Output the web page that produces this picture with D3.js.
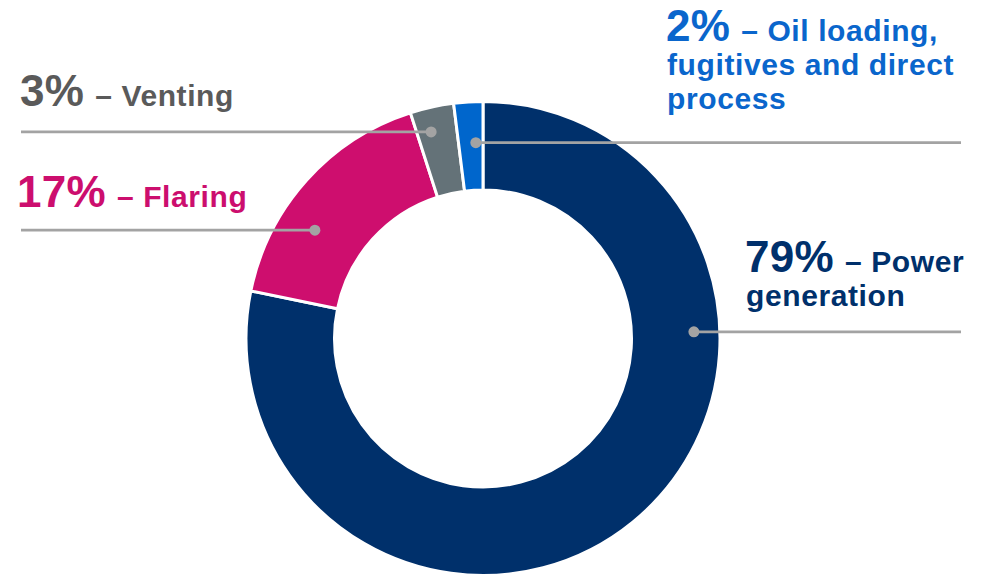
<!DOCTYPE html>
<html>
<head>
<meta charset="utf-8">
<script src="https://cdn.jsdelivr.net/npm/d3@7"></script>
<style>
  html, body { margin: 0; padding: 0; background: #fff; }
  svg { display: block; }
  text { font-family: "Liberation Sans", Arial, Helvetica, sans-serif; font-weight: bold; }
</style>
</head>
<body>
<svg id="chart" width="989" height="575"></svg>
<script>
// Emission sources, shares in percent
const categories = ["Power generation", "Flaring", "Venting", "Oil loading, fugitives and direct process"];
const shares = [79, 17, 3, 2];
const percentLabels = ["79%", "17%", "3%", "2%"];
const descriptionLines = [
  ["– Power", "generation"],
  ["– Flaring"],
  ["– Venting"],
  ["– Oil loading,", "fugitives and direct", "process"]
];

// Presentation
const sliceColors = ["#00306b", "#ce0e6e", "#647278", "#0066cc"];
const textColors  = ["#00306b", "#cc0e6e", "#5a5a5a", "#0a66cc"];

// Label placement: dot position on the ring (angle in degrees clockwise from top, radius),
// text anchor, first baseline and where the leader ends.
const labelLayout = [
  { angle: 88.2,  r: 211, textX: 745, baseY: 271.5, lineEnd: 961 },
  { angle: 302.8, r: 200, textX: 17,  baseY: 206.5, lineEnd: 21 },
  { angle: 345.9, r: 213, textX: 20,  baseY: 105.5, lineEnd: 21 },
  { angle: 357.9, r: 196, textX: 666, baseY: 40.5,  lineEnd: 961 }
];

const svg = d3.select("#chart");
const cx = 483, cy = 338.5;
const outerR = 237, innerR = 148.5;

const rows = categories.map((c, i) => ({ category: c, value: shares[i], index: i }));

const pie = d3.pie().value(d => d.value).sort(null);
const arc = d3.arc().innerRadius(innerR).outerRadius(outerR);

const g = svg.append("g").attr("transform", `translate(${cx},${cy})`);

g.selectAll("path.slice")
  .data(pie(rows))
  .join("path")
  .attr("class", "slice")
  .attr("d", arc)
  .attr("fill", d => sliceColors[d.data.index])
  .attr("stroke", "#fff")
  .attr("stroke-width", 3)
  .attr("stroke-linejoin", "miter");

// Leader lines and dots
const toXY = (deg, r) => {
  const a = deg * Math.PI / 180;
  return [cx + r * Math.sin(a), cy - r * Math.cos(a)];
};

rows.forEach((d, i) => {
  const L = labelLayout[i];
  const [px, py] = toXY(L.angle, L.r);
  svg.append("line")
    .attr("x1", px).attr("y1", py)
    .attr("x2", L.lineEnd).attr("y2", py)
    .attr("stroke", "#a3a3a3")
    .attr("stroke-width", 2.6);
  svg.append("circle")
    .attr("cx", px).attr("cy", py)
    .attr("r", 5.5)
    .attr("fill", "#a3a3a3");

  const t = svg.append("text")
    .attr("x", L.textX)
    .attr("y", L.baseY)
    .attr("fill", textColors[i]);
  t.append("tspan")
    .attr("font-size", 44)
    .attr("letter-spacing", 0.3)
    .text(percentLabels[i]);
  descriptionLines[i].forEach((line, k) => {
    const s = t.append("tspan")
      .attr("font-size", 30)
      .attr("letter-spacing", 0.6)
      .text(line);
    if (k === 0) {
      s.attr("dx", 11);
    } else {
      s.attr("x", L.textX + 1).attr("dy", k === 1 ? 34 : 34.5);
    }
  });
});
</script>
</body>
</html>
